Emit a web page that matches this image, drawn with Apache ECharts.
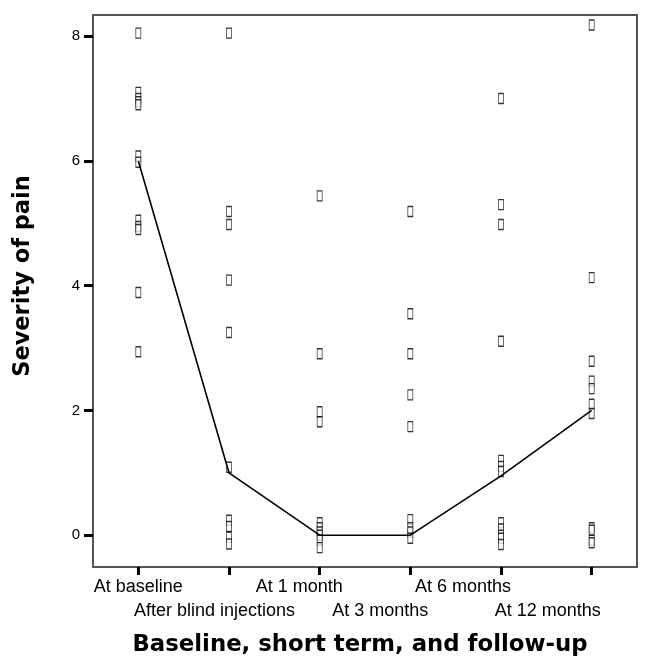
<!DOCTYPE html>
<html>
<head>
<meta charset="utf-8">
<script src="https://cdn.jsdelivr.net/npm/echarts@6/dist/echarts.min.js"></script>
<style>html,body{margin:0;padding:0;background:#fff;}#c{width:649px;height:665px;}</style>
</head>
<body>
<div id="c"></div>
<script>
var categories = ['At baseline', 'After blind injections', 'At 1 month', 'At 3 months', 'At 6 months', 'At 12 months'];
var atBaseline = [8.05, 7.1, 7.0, 6.95, 6.9, 6.08, 5.98, 5.05, 4.95, 4.9, 3.89, 2.94];
var afterBlind = [8.05, 5.19, 4.98, 4.09, 3.25, 1.09, 0.24, 0.14, -0.03, -0.14];
var atOneMonth = [5.44, 2.91, 1.98, 1.82, 0.2, 0.12, 0.05, 0.0, -0.08, -0.2];
var atThreeMonths = [5.19, 3.55, 2.91, 2.25, 1.74, 0.25, 0.12, 0.05, -0.05];
var atSixMonths = [7.0, 5.3, 4.98, 3.11, 1.2, 1.1, 1.02, 0.2, 0.1, 0.0, -0.05, -0.15];
var atTwelveMonths = [8.18, 4.13, 2.79, 2.47, 2.35, 2.1, 1.95, 0.12, 0.08, -0.08, -0.12];
var medians = [6, 1, 0, 0, 0.95, 2];
var yTicks = [0, 2, 4, 6, 8];

var groups = [atBaseline, afterBlind, atOneMonth, atThreeMonths, atSixMonths, atTwelveMonths];
var scatterData = [];
groups.forEach(function (g, i) { g.forEach(function (v) { scatterData.push([i, v]); }); });

var shifts = [0, 29, 41, 60, 76, 88];
var rich = {};
shifts.forEach(function (s, i) {
  rich['s' + i] = { padding: [i % 2 ? 24 : 0, s, 0, 0], fontSize: 18, fontFamily: 'Liberation Sans', color: '#000' };
});

var chart = echarts.init(document.getElementById('c'));
chart.setOption({
  animation: false,
  backgroundColor: '#fff',
  grid: { left: 93, right: 12, top: 15, bottom: 98, outerBoundsMode: 'none', containLabel: false, show: true, borderColor: '#555', borderWidth: 2, backgroundColor: 'transparent' },
  xAxis: {
    type: 'category',
    data: categories,
    boundaryGap: true,
    axisLine: { show: false, onZero: false },
    axisTick: { show: true, alignWithLabel: true, length: 8, lineStyle: { color: '#000', width: 3 } },
    axisLabel: {
      interval: 0, hideOverlap: false, margin: 11,
      formatter: function (v, i) { return '{s' + i + '|' + v + '}'; },
      rich: rich
    },
    splitLine: { show: false },
    name: 'Baseline, short term, and follow-up',
    nameLocation: 'middle',
    nameGap: 67,
    nameTextStyle: { fontFamily: 'DejaVu Sans', fontWeight: 'bold', fontSize: 22.8, color: '#000', padding: [0, 10, 0, 0] }
  },
  yAxis: {
    type: 'value',
    min: -0.51,
    max: 8.34,
    axisLine: { show: false },
    axisTick: { show: true, customValues: yTicks, length: 9, lineStyle: { color: '#000', width: 3 } },
    axisLabel: { customValues: yTicks, margin: 13, fontSize: 15, fontFamily: 'Liberation Sans', color: '#000' },
    splitLine: { show: false },
    name: 'Severity of pain',
    nameLocation: 'middle',
    nameGap: 58,
    nameRotate: 90,
    nameTextStyle: { fontFamily: 'DejaVu Sans', fontWeight: 'bold', fontSize: 22.5, color: '#000', padding: [0, 0, 0, 30] }
  },
  series: [
    {
      type: 'scatter',
      data: scatterData,
      symbol: 'rect',
      symbolSize: [5, 10],
      itemStyle: { color: '#fff', borderColor: '#000', borderWidth: 1 },
      z: 2
    },
    {
      type: 'line',
      data: medians,
      symbol: 'none',
      lineStyle: { color: '#000', width: 1.6 },
      z: 3
    }
  ]
});
</script>
</body>
</html>
